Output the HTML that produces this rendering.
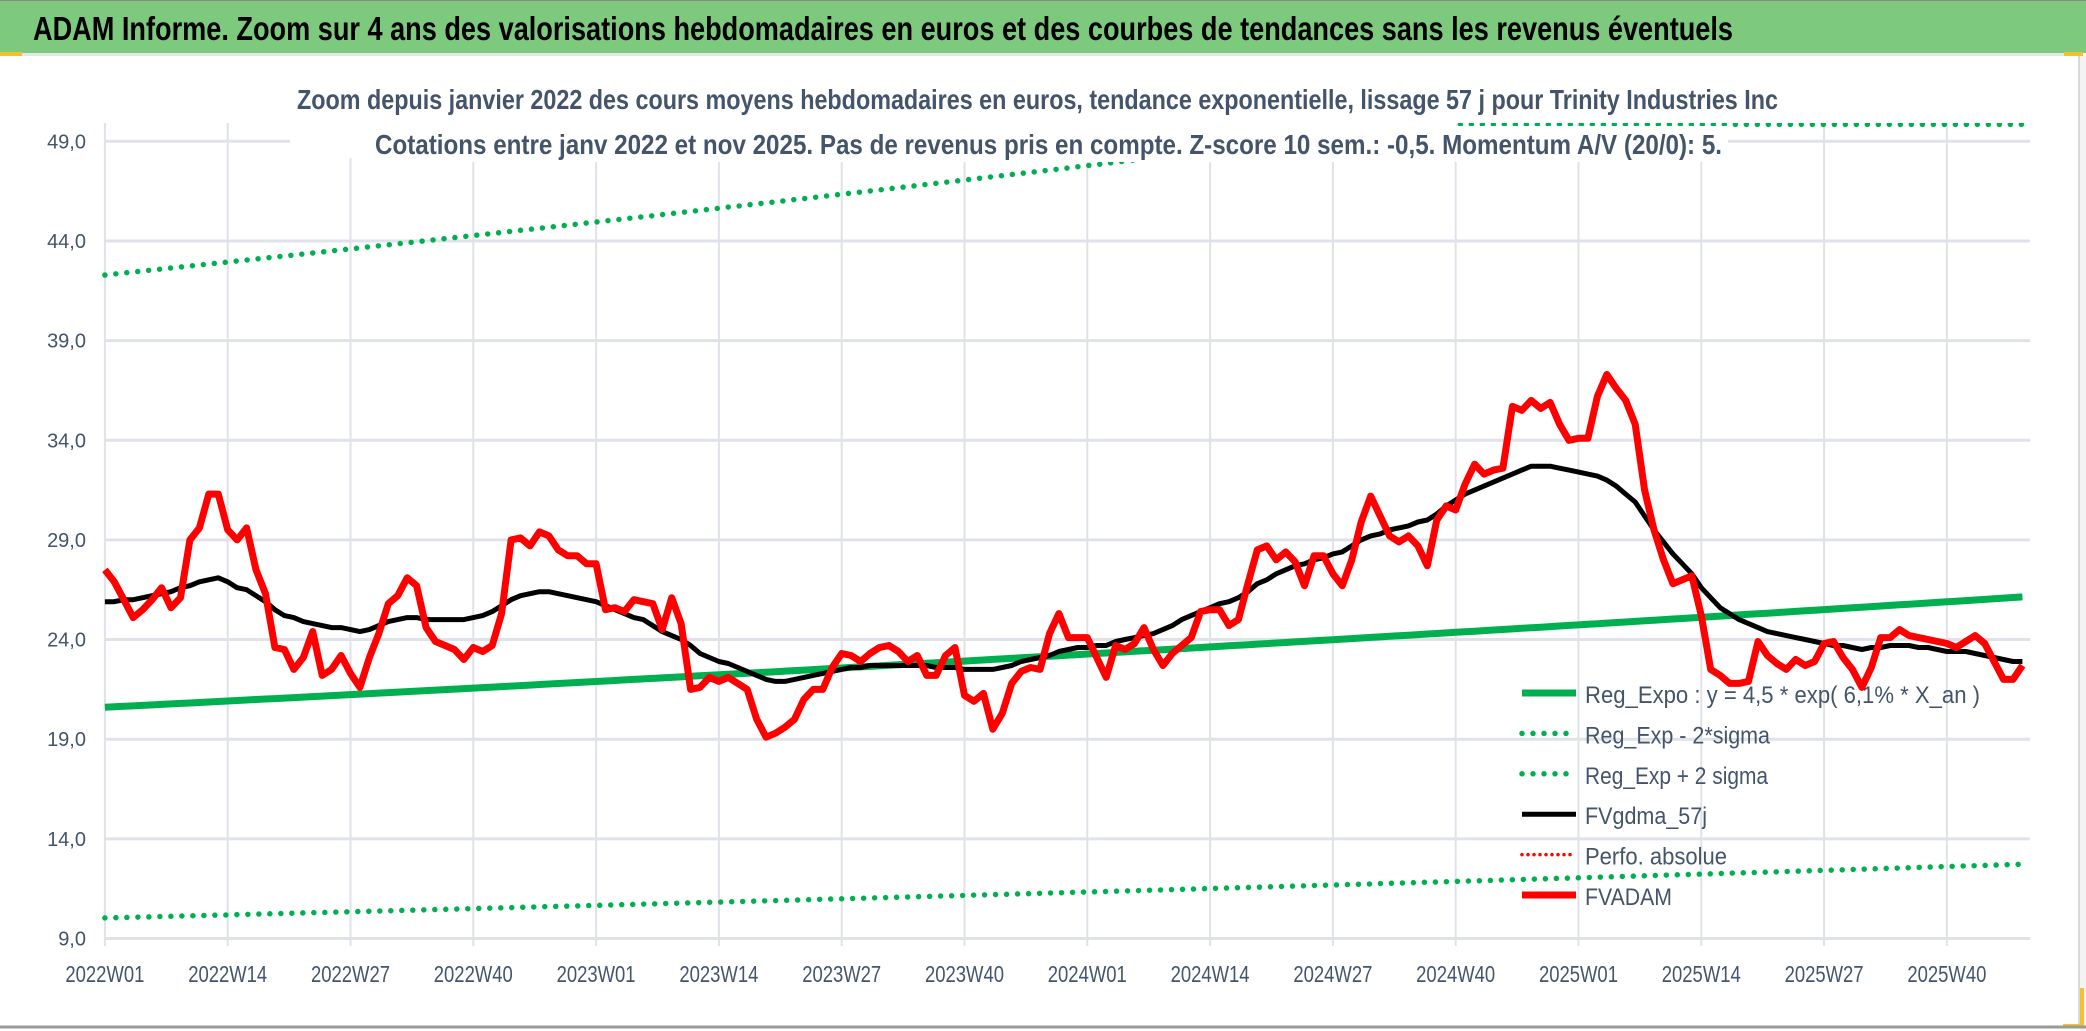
<!DOCTYPE html>
<html><head><meta charset="utf-8"><title>ADAM Informe - Trinity Industries Inc</title>
<style>
html,body{margin:0;padding:0;background:#fff;}
svg{display:block;}
text{font-family:"Liberation Sans Narrow","Liberation Sans",sans-serif;}
</style></head>
<body>
<svg id="chart" xmlns="http://www.w3.org/2000/svg" width="2086" height="1031" viewBox="0 0 2086 1031">
  <rect x="0" y="0" width="2086" height="1031" fill="#ffffff"/>
  <rect x="0" y="0" width="2086" height="53" fill="#7dc97d"/>
  <line x1="0" y1="0.5" x2="2086" y2="0.5" stroke="#8a8a8a" stroke-width="1"/>
  <rect x="0" y="53" width="2080" height="3" fill="#e4e6ea"/>
  <rect x="0" y="52" width="22" height="4" fill="#f2c12e"/>
  <rect x="2064" y="52" width="18" height="4" fill="#f2c12e"/>
  <rect x="2079" y="52" width="4" height="18" fill="#f2c12e"/>
  <rect x="2080" y="56" width="6" height="975" fill="#f3f3f3"/>
  <line x1="2079" y1="56" x2="2079" y2="1026" stroke="#d8d8d8" stroke-width="2"/>
  <rect x="2080" y="988" width="4" height="40" fill="#f2c12e"/>
  <rect x="2063" y="1024" width="20" height="4" fill="#f2c12e"/>
  <line x1="0" y1="1027" x2="2086" y2="1027" stroke="#9a9a9a" stroke-width="3"/>
  <text x="33" y="40" font-size="33" font-weight="bold" fill="#000" textLength="1700" lengthAdjust="spacingAndGlyphs">ADAM Informe. Zoom sur 4 ans des valorisations hebdomadaires en euros et des courbes de tendances sans les revenus éventuels</text>
  <defs><clipPath id="plotclip"><rect x="95" y="123" width="1940" height="830"/></clipPath></defs>
  <g id="grid"></g>
  <g id="yaxis"></g>
  <g id="xaxis"></g>
  <g id="series" clip-path="url(#plotclip)"></g>
  <g id="subtitle">
    <rect x="290" y="78" width="1166" height="80" fill="#fff"/>
    <rect x="290" y="80" width="1495" height="36" fill="#fff"/>
    <rect x="368" y="126" width="1360" height="36" fill="#fff"/>
    <text x="297" y="109" font-size="28" font-weight="bold" fill="#44546a" textLength="1481" lengthAdjust="spacingAndGlyphs">Zoom depuis janvier 2022 des cours moyens hebdomadaires en euros, tendance exponentielle, lissage 57 j pour Trinity Industries Inc</text>
    <text x="375" y="154" font-size="28" font-weight="bold" fill="#44546a" textLength="1347" lengthAdjust="spacingAndGlyphs">Cotations entre janv 2022 et nov 2025. Pas de revenus pris en compte. Z-score 10 sem.: -0,5. Momentum A/V (20/0): 5.</text>
  </g>
  <g id="legend"></g>
</svg>
<script>
// ---- data ----
const yTicks = [9, 14, 19, 24, 29, 34, 39, 44, 49];
const yTickLabels = ["9,0","14,0","19,0","24,0","29,0","34,0","39,0","44,0","49,0"];
const xTickWeeks = [0,13,26,39,52,65,78,91,104,117,130,143,156,169,182,195];
const xTickLabels = ["2022W01","2022W14","2022W27","2022W40","2023W01","2023W14","2023W27","2023W40","2024W01","2024W14","2024W27","2024W40","2025W01","2025W14","2025W27","2025W40"];
const fvadam = [27.5,26.9,26.0,25.1,25.5,26.0,26.6,25.6,26.1,29.0,29.6,31.3,31.3,29.5,29.0,29.6,27.5,26.3,23.6,23.5,
22.5,23.1,24.4,22.2,22.5,23.2,22.3,21.6,23.1,24.3,25.8,26.2,27.1,26.7,24.6,23.9,23.7,23.5,23.0,23.6,
23.4,23.7,25.3,29.0,29.1,28.7,29.4,29.2,28.5,28.2,28.2,27.8,27.8,25.5,25.6,25.4,26.0,25.9,25.8,24.5,
26.1,24.8,21.5,21.6,22.1,21.9,22.1,21.8,21.5,20.0,19.1,19.3,19.6,20.0,21.0,21.5,21.5,22.6,23.3,23.2,
22.9,23.3,23.6,23.7,23.4,22.9,23.2,22.2,22.2,23.2,23.6,21.2,20.9,21.3,19.5,20.3,21.8,22.4,22.6,22.5,
24.3,25.3,24.1,24.1,24.1,23.1,22.1,23.7,23.5,23.8,24.6,23.5,22.7,23.3,23.7,24.1,25.4,25.5,25.5,24.7,
25.0,26.8,28.5,28.7,28.0,28.4,27.9,26.7,28.2,28.2,27.3,26.7,28.0,29.9,31.2,30.2,29.2,28.9,29.2,28.7,
27.7,30.0,30.7,30.5,31.8,32.8,32.3,32.5,32.6,35.7,35.5,36.0,35.6,35.9,34.8,34.0,34.1,34.1,36.2,37.3,
36.6,36.0,34.8,31.5,29.5,28.0,26.8,27.0,27.2,25.2,22.5,22.2,21.8,21.8,21.9,23.9,23.2,22.8,22.5,23.0,
22.7,22.9,23.8,23.9,23.1,22.5,21.6,22.6,24.1,24.1,24.5,24.2,24.1,24.0,23.9,23.8,23.6,23.9,24.2,23.8,
22.9,22.0,22.0,22.7];
const fvgdma57 = [25.9,25.9,26.0,26.0,26.1,26.2,26.3,26.4,26.6,26.7,26.9,27.0,27.1,26.9,26.6,26.5,26.2,25.9,25.5,25.2,
25.1,24.9,24.8,24.7,24.6,24.6,24.5,24.4,24.5,24.7,24.9,25.0,25.1,25.1,25.0,25.0,25.0,25.0,25.0,25.1,
25.2,25.4,25.7,26.0,26.2,26.3,26.4,26.4,26.3,26.2,26.1,26.0,25.9,25.7,25.5,25.3,25.1,25.0,24.7,24.4,
24.2,24.0,23.7,23.3,23.1,22.9,22.8,22.6,22.4,22.2,22.0,21.9,21.9,22.0,22.1,22.2,22.3,22.4,22.5,22.6,
22.6,22.7,22.7,22.7,22.7,22.7,22.7,22.7,22.6,22.6,22.6,22.5,22.5,22.5,22.5,22.6,22.7,22.9,23.0,23.1,
23.2,23.4,23.5,23.6,23.6,23.7,23.7,23.9,24.0,24.1,24.2,24.3,24.5,24.7,25.0,25.2,25.4,25.6,25.8,25.9,
26.1,26.4,26.8,27.0,27.3,27.5,27.7,27.8,28.0,28.1,28.3,28.4,28.7,29.0,29.2,29.3,29.5,29.6,29.7,29.9,
30.0,30.3,30.7,31.0,31.3,31.5,31.7,31.9,32.1,32.3,32.5,32.7,32.7,32.7,32.6,32.5,32.4,32.3,32.2,32.0,
31.7,31.3,30.9,30.2,29.5,28.9,28.3,27.8,27.3,26.6,26.1,25.6,25.3,25.0,24.8,24.6,24.4,24.3,24.2,24.1,
24.0,23.9,23.8,23.7,23.7,23.6,23.5,23.6,23.6,23.7,23.7,23.7,23.6,23.6,23.5,23.4,23.4,23.4,23.3,23.2,
23.1,23.0,22.9,22.9];
const regStart = [20.6];
const regRate = [0.061];
const bandFactors = [2.053, 0.487];
const legendLabels = ["Reg_Expo : y = 4,5 * exp( 6,1% *  X_an )","Reg_Exp - 2*sigma","Reg_Exp + 2 sigma","FVgdma_57j","Perfo. absolue","FVADAM"];

// ---- axes ----
const NS = "http://www.w3.org/2000/svg";
const X0 = 104.9, WK = 9.446, XR = 2030;
const Y9 = 938.5, PXU = 19.93, YMIN = 9;
function xs(w){ return X0 + w * WK; }
function ys(v){ return Y9 - (v - YMIN) * PXU; }
function mk(tag, attrs, parent){
  const e = document.createElementNS(NS, tag);
  for (const k in attrs) e.setAttribute(k, attrs[k]);
  parent.appendChild(e);
  return e;
}
const grid = document.getElementById('grid');
const yaxis = document.getElementById('yaxis');
const xaxis = document.getElementById('xaxis');
const series = document.getElementById('series');
const legend = document.getElementById('legend');

yTicks.forEach((v, i) => {
  const g = mk('line', {x1: X0, x2: XR, y1: ys(v), y2: ys(v), stroke: '#dfe2e8', 'stroke-width': 3}, grid);
  
  
  const t = mk('text', {x: 86, y: ys(v) + 7, 'font-size': 20, fill: '#44546a', 'text-anchor': 'end'}, yaxis);
  t.textContent = yTickLabels[i];
  
  
});
xTickWeeks.forEach((w, i) => {
  const g = mk('line', {x1: xs(w), x2: xs(w), y1: 123, y2: 946, stroke: '#dfe2e8', 'stroke-width': 2}, grid);
  
  
  const t = mk('text', {x: xs(w), y: 982, 'font-size': 23, fill: '#44546a', 'text-anchor': 'middle', textLength: 79, lengthAdjust: 'spacingAndGlyphs'}, xaxis);
  t.textContent = xTickLabels[i];
  
  
});

// ---- series ----
function pathFrom(vals){
  return vals.map((v, i) => (i ? 'L' : 'M') + xs(i).toFixed(1) + ' ' + ys(v).toFixed(1)).join(' ');
}
const n = fvadam.length;
const reg = [], up = [], lo = [];
for (let i = 0; i < n; i++){
  const r = regStart[0] * Math.exp(regRate[0] * i / 52);
  reg.push(r); up.push(r * bandFactors[0]); lo.push(r * bandFactors[1]);
}
const dotted = {fill: 'none', stroke: '#00b050', 'stroke-width': 5.5, 'stroke-linecap': 'round', 'stroke-dasharray': '0 11'};
const pLo = mk('path', Object.assign({d: pathFrom(lo)}, dotted), series);


const upClamped = up.map(v => Math.min(v, 49.85));
const pUp = mk('path', Object.assign({d: pathFrom(upClamped)}, dotted), series);


const pReg = mk('path', {d: pathFrom(reg), fill: 'none', stroke: '#00b050', 'stroke-width': 7}, series);


const pMa = mk('path', {d: pathFrom(fvgdma57), fill: 'none', stroke: '#000', 'stroke-width': 5, 'stroke-linejoin': 'round'}, series);


const pRed = mk('path', {d: pathFrom(fvadam), fill: 'none', stroke: '#ff0000', 'stroke-width': 7, 'stroke-linejoin': 'round'}, series);



// ---- legend ----
const legendStyles = [
  {stroke: '#00b050', w: 7, dash: null},
  {stroke: '#00b050', w: 5.5, dash: '0 11'},
  {stroke: '#00b050', w: 5.5, dash: '0 11'},
  {stroke: '#000000', w: 5, dash: null},
  {stroke: '#ff0000', w: 3.5, dash: '0 6'},
  {stroke: '#ff0000', w: 7, dash: null}
];
const legendWidths = [395, 185, 183, 122, 142, 87];
legendLabels.forEach((lab, i) => {
  const by = 703 + i * 40.4;
  const st = legendStyles[i];
  const a = {x1: 1522, x2: 1576, y1: by - 10, y2: by - 10, stroke: st.stroke, 'stroke-width': st.w};
  if (st.dash){ a['stroke-dasharray'] = st.dash; a['stroke-linecap'] = 'round'; }
  const l = mk('line', a, legend);
  
  
  const t = mk('text', {x: 1585, y: by, 'font-size': 24, fill: '#44546a', textLength: legendWidths[i], lengthAdjust: 'spacingAndGlyphs'}, legend);
  t.textContent = lab;
  
  
});
</script>
</body></html>
